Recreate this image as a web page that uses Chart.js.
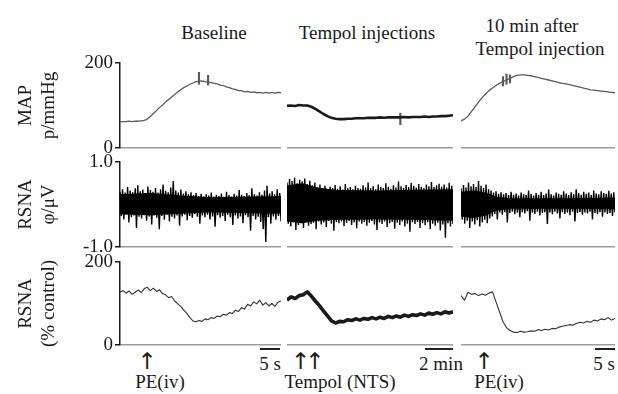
<!DOCTYPE html>
<html>
<head>
<meta charset="utf-8">
<script src="https://cdn.jsdelivr.net/npm/chart.js@4.4.0/dist/chart.umd.min.js"></script>
<style>
  body { margin: 0; background: #fff; }
  #fig { position: relative; width: 618px; height: 394px; overflow: hidden;
         font-family: "Liberation Serif", "Times New Roman", serif; color: #1a1a1a; }
  #fig canvas { position: absolute; }
  .t { position: absolute; font-size: 19px; line-height: 1; white-space: nowrap; transform: translate(-50%, -50%); }
  .ar { font-family: "DejaVu Sans", sans-serif; font-size: 23px; }
  .sb { position: absolute; height: 2px; background: #222; }
</style>
</head>
<body>
<div id="fig">
  <div class="t" style="left:214px;top:32px">Baseline</div>
  <div class="t" style="left:367px;top:32px">Tempol injections</div>
  <div class="t" style="left:532px;top:25px">10 min after</div>
  <div class="t" style="left:540px;top:48px">Tempol injection</div>

  <div class="t ar" style="left:147px;top:361px">↑</div>
  <div class="t" style="left:160px;top:381px">PE(iv)</div>
  <div class="sb" style="left:260px;top:348px;width:20px"></div>
  <div class="t" style="left:270px;top:363px">5 s</div>

  <div class="t ar" style="left:305px;top:361px;letter-spacing:-5px">↑↑</div>
  <div class="t" style="left:340px;top:381px">Tempol (NTS)</div>
  <div class="sb" style="left:425px;top:348px;width:28px"></div>
  <div class="t" style="left:441px;top:363px">2 min</div>

  <div class="t ar" style="left:484px;top:361px">↑</div>
  <div class="t" style="left:499px;top:381px">PE(iv)</div>
  <div class="sb" style="left:595px;top:348px;width:20px"></div>
  <div class="t" style="left:604px;top:363px">5 s</div>
</div>
<script>
// ---- MAP (mmHg) ----
const mapBaseline = [62, 62, 62, 63, 62, 63, 63, 64, 65, 68, 74, 81, 88, 95, 101, 108, 114, 120, 126, 132,
  137, 142, 146, 150, 153, 156, 157, 158, 156, 155, 154, 152, 151, 148, 147, 144, 142, 139, 138, 135,
  135, 132, 133, 131, 132, 130, 131, 129, 131, 129, 131, 129, 131, 130];
const mapBaselineSpikeIdx = [26, 29];
const mapBaselineSpikeLo = [150, 148];
const mapBaselineSpikeHi = [178, 171];

const mapTempol = [99, 100, 99, 101, 100, 100, 97, 92, 86, 80, 75, 71, 69, 68, 68, 69, 69, 70, 70, 70,
  71, 71, 71, 72, 71, 72, 72, 72, 72, 73, 72, 73, 73, 73, 74, 73, 74, 74, 75, 75, 76, 77];
const mapTempolSpikeIdx = [28];
const mapTempolSpikeLo = [55];
const mapTempolSpikeHi = [82];

const mapAfter = [64, 68, 75, 86, 97, 108, 118, 127, 135, 141, 147, 152, 156, 160, 164, 168, 171, 172, 172, 171,
  170, 168, 166, 164, 162, 160, 158, 156, 154, 152, 151, 149, 147, 145, 143, 141, 139, 137, 136, 135,
  134, 133, 132, 131, 130];
const mapAfterSpikeIdx = [12, 13, 14];
const mapAfterSpikeLo = [146, 150, 153];
const mapAfterSpikeHi = [168, 174, 172];

// ---- RSNA raw (uV): upper and lower swing per time bin ----
const rawBaselineHi = [0.30, 0.36, 0.28, 0.41, 0.33, 0.29, 0.38, 0.45, 0.31, 0.35,
  0.27, 0.42, 0.34, 0.30, 0.39, 0.28, 0.36, 0.47, 0.32, 0.29,
  0.40, 0.55, 0.33, 0.28, 0.35, 0.26, 0.31, 0.24, 0.29, 0.22,
  0.27, 0.20, 0.25, 0.19, 0.24, 0.21, 0.28, 0.19, 0.23, 0.20,
  0.26, 0.18, 0.30, 0.22, 0.19, 0.25, 0.21, 0.34, 0.23, 0.20,
  0.27, 0.22, 0.38, 0.24, 0.21, 0.29, 0.23, 0.33, 0.44, 0.26,
  0.31, 0.24, 0.36, 0.27];
const rawBaselineLo = [-0.27, -0.35, -0.24, -0.42, -0.30, -0.26, -0.55, -0.29, -0.33, -0.25,
  -0.38, -0.28, -0.47, -0.26, -0.31, -0.58, -0.27, -0.36, -0.24, -0.40,
  -0.29, -0.33, -0.26, -0.50, -0.28, -0.24, -0.37, -0.27, -0.31, -0.23,
  -0.29, -0.45, -0.26, -0.30, -0.24, -0.35, -0.28, -0.52, -0.25, -0.31,
  -0.27, -0.39, -0.24, -0.30, -0.48, -0.26, -0.33, -0.28, -0.44, -0.25,
  -0.30, -0.62, -0.27, -0.35, -0.29, -0.41, -0.58, -0.88, -0.30, -0.45,
  -0.28, -0.36, -0.27, -0.40];
// dense core of the signal (index into the swing series, value)
const rawBaselineCoreIdx = [0, 24, 48, 72, 96, 127];
const rawBaselineCoreHi = [0.24, 0.27, 0.21, 0.17, 0.18, 0.20];
const rawBaselineCoreLo = [-0.23, -0.25, -0.22, -0.18, -0.20, -0.22];

const rawTempolHi = [0.52, 0.60, 0.55, 0.63, 0.50, 0.58, 0.54, 0.61, 0.48, 0.56,
  0.45, 0.52, 0.40, 0.47, 0.38, 0.44, 0.36, 0.42, 0.39, 0.46,
  0.37, 0.43, 0.35, 0.48, 0.38, 0.41, 0.36, 0.44, 0.39, 0.37,
  0.45, 0.40, 0.52, 0.38, 0.43, 0.36, 0.47, 0.41, 0.39, 0.50,
  0.42, 0.37, 0.45, 0.40, 0.54, 0.43, 0.39, 0.46, 0.41, 0.51,
  0.44, 0.40, 0.48, 0.42, 0.38, 0.47, 0.43, 0.53, 0.41, 0.45,
  0.49, 0.42, 0.47, 0.40, 0.51, 0.44];
const rawTempolLo = [-0.45, -0.52, -0.42, -0.60, -0.48, -0.44, -0.55, -0.41, -0.50, -0.46,
  -0.43, -0.58, -0.40, -0.47, -0.42, -0.53, -0.39, -0.45, -0.62, -0.41,
  -0.44, -0.40, -0.51, -0.43, -0.39, -0.48, -0.42, -0.56, -0.40, -0.45,
  -0.41, -0.50, -0.43, -0.39, -0.47, -0.60, -0.42, -0.46, -0.40, -0.53,
  -0.44, -0.41, -0.57, -0.43, -0.48, -0.40, -0.52, -0.45, -0.64, -0.42,
  -0.46, -0.41, -0.55, -0.44, -0.49, -0.42, -0.58, -0.45, -0.50, -0.43,
  -0.61, -0.47, -0.78, -0.44, -0.52, -0.46];
const rawTempolCoreIdx = [0, 12, 24, 40, 70, 100, 131];
const rawTempolCoreHi = [0.45, 0.50, 0.40, 0.34, 0.33, 0.35, 0.36];
const rawTempolCoreLo = [-0.40, -0.44, -0.38, -0.36, -0.35, -0.36, -0.38];

const rawAfterHi = [0.38, 0.46, 0.40, 0.52, 0.43, 0.48, 0.41, 0.55, 0.44, 0.39,
  0.47, 0.36, 0.33, 0.28, 0.31, 0.25, 0.29, 0.24, 0.27, 0.22,
  0.30, 0.23, 0.26, 0.21, 0.28, 0.24, 0.22, 0.33, 0.25, 0.21,
  0.27, 0.23, 0.30, 0.22, 0.26, 0.35, 0.24, 0.21, 0.28, 0.25,
  0.23, 0.31, 0.26, 0.22, 0.29, 0.24, 0.36, 0.27, 0.23, 0.30,
  0.25, 0.28, 0.22, 0.33, 0.26, 0.24, 0.31, 0.27, 0.25, 0.32,
  0.26, 0.29];
const rawAfterLo = [-0.36, -0.45, -0.38, -0.55, -0.40, -0.47, -0.37, -0.52, -0.42, -0.36,
  -0.44, -0.33, -0.28, -0.22, -0.35, -0.19, -0.24, -0.18, -0.42, -0.20,
  -0.17, -0.23, -0.19, -0.30, -0.18, -0.21, -0.16, -0.38, -0.19, -0.22,
  -0.17, -0.26, -0.20, -0.18, -0.46, -0.19, -0.23, -0.17, -0.21, -0.33,
  -0.18, -0.22, -0.19, -0.25, -0.17, -0.40, -0.20, -0.18, -0.24, -0.19,
  -0.21, -0.17, -0.35, -0.20, -0.23, -0.18, -0.29, -0.19, -0.22, -0.20,
  -0.27, -0.19];
const rawAfterCoreIdx = [0, 10, 20, 28, 40, 80, 123];
const rawAfterCoreHi = [0.30, 0.33, 0.28, 0.18, 0.15, 0.15, 0.16];
const rawAfterCoreLo = [-0.28, -0.32, -0.26, -0.14, -0.10, -0.10, -0.11];

// ---- RSNA (% control) ----
const pctBaseline = [128, 131, 125, 130, 122, 127, 133, 126, 136, 139, 131, 137, 129, 133, 124, 121, 114, 117, 106, 99,
  93, 84, 76, 66, 58, 56, 59, 57, 63, 61, 66, 64, 70, 68, 74, 72, 78, 76, 84, 81,
  90, 87, 98, 94, 104, 99, 108, 96, 102, 94, 100, 93, 103, 106];
const pctTempol = [108, 116, 112, 119, 121, 128, 118, 106, 95, 82, 70, 58, 53, 57, 56, 61, 59, 63, 60, 64,
  62, 66, 63, 67, 64, 69, 66, 70, 67, 72, 69, 73, 71, 75, 72, 77, 74, 78, 75, 80, 77, 80];
const pctAfter = [119, 108, 127, 122, 124, 119, 123, 120, 125, 128, 104, 80, 56, 42, 35, 31, 30, 33, 31, 32,
  34, 33, 37, 35, 38, 36, 40, 39, 43, 45, 47, 49, 48, 52, 55, 53, 57, 55, 60, 58,
  63, 61, 66, 60, 64];

// ---- axes ----
const mapTicks = [0, 200];
const mapTickLabels = ['0', '200'];
const rawTicks = [-1, 1];
const rawTickLabels = ['-1.0', '1.0'];
const pctTicks = [0, 200];
const pctTickLabels = ['0', '200'];

const INK = '#1a1a1a';
const GREY = '#5a5a5a';
const SERIF = "'Liberation Serif', 'Times New Roman', serif";
const PAD = 14;
const rows = [{top: 63, bottom: 148}, {top: 162, bottom: 247}, {top: 262, bottom: 345}];
const cols = [{left: 120, right: 281}, {left: 287, right: 453}, {left: 461, right: 615}];
const fig = document.getElementById('fig');

function indexLabels(n) {
  return Array.from({length: n}, (_, i) => i);
}

// put a few values at given indices, leave the rest empty
function sparse(n, idx, vals) {
  const out = new Array(n).fill(null);
  idx.forEach((k, j) => { out[k] = vals[j]; });
  return out;
}

function spikes(n, idx, lo, hi) {
  return sparse(n, idx, idx.map((_, j) => [lo[j], hi[j]]));
}

// raw nerve signal: swing up then down in each bin
function swing(hi, lo) {
  const out = [];
  hi.forEach((v, i) => { out.push(v, lo[i]); });
  return out;
}

function panel(row, col, n, datasets, y) {
  const r = rows[row], c = cols[col];
  const first = col === 0;
  const left = first ? 0 : c.left;
  const w = c.right - left;
  const h = r.bottom - r.top + 2 * PAD;
  const canvas = document.createElement('canvas');
  canvas.width = w;
  canvas.height = h;
  canvas.style.left = left + 'px';
  canvas.style.top = (r.top - PAD) + 'px';
  fig.appendChild(canvas);

  new Chart(canvas, {
    type: 'line',
    data: {labels: indexLabels(n), datasets: datasets},
    options: {
      responsive: false,
      animation: false,
      layout: {padding: {left: 0, right: 0, top: PAD, bottom: PAD}},
      plugins: {legend: {display: false}, tooltip: {enabled: false}},
      elements: {point: {radius: 0}, line: {tension: 0}},
      scales: {
        x: {
          type: 'category',
          offset: false,
          ticks: {display: false},
          grid: {display: false},
          border: {display: true, color: '#9b9b9b', width: 1.5},
          afterFit: s => { s.height = 0; }
        },
        y: {
          display: first,
          min: y.min,
          max: y.max,
          afterBuildTicks: s => { s.ticks = y.ticks.map(v => ({value: v})); },
          afterFit: s => { s.width = first ? 120 : 0; },
          ticks: {
            callback: (v, i) => y.labels[i],
            font: {family: SERIF, size: 19},
            color: INK,
            padding: 2
          },
          grid: {drawOnChartArea: false, tickLength: 5, color: INK, lineWidth: 1.5},
          border: {color: INK, width: 1.5},
          title: {
            display: true,
            text: y.title,
            font: {family: SERIF, size: 19, lineHeight: 1.2},
            color: INK,
            padding: {top: 15, bottom: 0}
          }
        }
      }
    }
  });
}

function trace(data, color, width) {
  return {type: 'line', data: data, borderColor: color, borderWidth: width, pointRadius: 0,
    borderJoinStyle: 'round'};
}

function spikeSet(data, color) {
  return {type: 'bar', data: data, backgroundColor: color, barThickness: 1.5, borderWidth: 0};
}

function rawSets(hi, lo, coreIdx, coreHi, coreLo) {
  const n = hi.length * 2;
  return [
    {data: sparse(n, coreIdx, coreHi), spanGaps: true, borderWidth: 0, pointRadius: 0, fill: false},
    {data: sparse(n, coreIdx, coreLo), spanGaps: true, borderWidth: 0, pointRadius: 0,
      fill: '-1', backgroundColor: '#000'},
    {data: swing(hi, lo), borderColor: '#000', borderWidth: 1.4, pointRadius: 0, borderJoinStyle: 'miter'}
  ];
}

const mapAxis = {min: 0, max: 200, ticks: mapTicks, labels: mapTickLabels, title: ['MAP', 'p/mmHg']};
const rawAxis = {min: -1, max: 1, ticks: rawTicks, labels: rawTickLabels, title: ['RSNA', 'φ/μV']};
const pctAxis = {min: 0, max: 200, ticks: pctTicks, labels: pctTickLabels, title: ['RSNA', '(% control)']};

// row 1: MAP
panel(0, 0, mapBaseline.length, [
  trace(mapBaseline, GREY, 1.3),
  spikeSet(spikes(mapBaseline.length, mapBaselineSpikeIdx, mapBaselineSpikeLo, mapBaselineSpikeHi), GREY)
], mapAxis);
panel(0, 1, mapTempol.length, [
  trace(mapTempol, INK, 2.6),
  spikeSet(spikes(mapTempol.length, mapTempolSpikeIdx, mapTempolSpikeLo, mapTempolSpikeHi), GREY)
], mapAxis);
panel(0, 2, mapAfter.length, [
  trace(mapAfter, GREY, 1.3),
  spikeSet(spikes(mapAfter.length, mapAfterSpikeIdx, mapAfterSpikeLo, mapAfterSpikeHi), GREY)
], mapAxis);

// row 2: raw RSNA
panel(1, 0, rawBaselineHi.length * 2,
  rawSets(rawBaselineHi, rawBaselineLo, rawBaselineCoreIdx, rawBaselineCoreHi, rawBaselineCoreLo), rawAxis);
panel(1, 1, rawTempolHi.length * 2,
  rawSets(rawTempolHi, rawTempolLo, rawTempolCoreIdx, rawTempolCoreHi, rawTempolCoreLo), rawAxis);
panel(1, 2, rawAfterHi.length * 2,
  rawSets(rawAfterHi, rawAfterLo, rawAfterCoreIdx, rawAfterCoreHi, rawAfterCoreLo), rawAxis);

// row 3: RSNA % control
panel(2, 0, pctBaseline.length, [trace(pctBaseline, '#333', 1.1)], pctAxis);
panel(2, 1, pctTempol.length, [trace(pctTempol, INK, 3.6)], pctAxis);
panel(2, 2, pctAfter.length, [trace(pctAfter, '#333', 1.1)], pctAxis);
</script>
</body>
</html>
